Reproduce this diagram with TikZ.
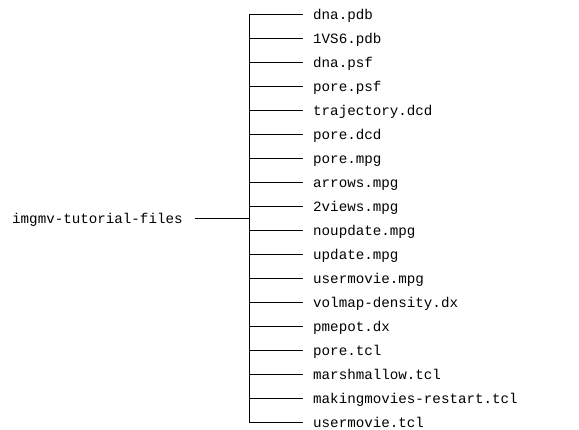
\documentclass[tikz,border=0pt]{standalone}
\usepackage{fontspec}
\setmonofont{Liberation Mono}
\begin{document}
\begin{tikzpicture}[x=1pt,y=-1pt,
  lbl/.style={font=\ttfamily\fontsize{14.2}{16}\selectfont, inner sep=0pt, anchor=base west},
  conn/.style={line width=1pt}]
\useasboundingbox (0,0) rectangle (579,430);
\node[lbl] (root) at (12,224) {imgmv-tutorial-files};
\coordinate (rs) at (195,219);
\coordinate (jn) at (249,219);
\draw[conn] (rs) -- (jn);
\foreach \t [count=\i from 0] in {dna.pdb,1VS6.pdb,dna.psf,pore.psf,trajectory.dcd,pore.dcd,pore.mpg,arrows.mpg,2views.mpg,noupdate.mpg,update.mpg,usermovie.mpg,volmap-density.dx,pmepot.dx,pore.tcl,marshmallow.tcl,makingmovies-restart.tcl,usermovie.tcl}{
  \pgfmathsetmacro{\yy}{15+24*\i}
  \coordinate (b\i) at (249,\yy);
  \coordinate (e\i) at (303,\yy);
  \node[lbl] (f\i) at (313,\yy+5) {\t};
  \draw[conn] (b\i) -- (e\i);
}
\draw[conn] (b0) -- (b17);
\end{tikzpicture}
\end{document}
